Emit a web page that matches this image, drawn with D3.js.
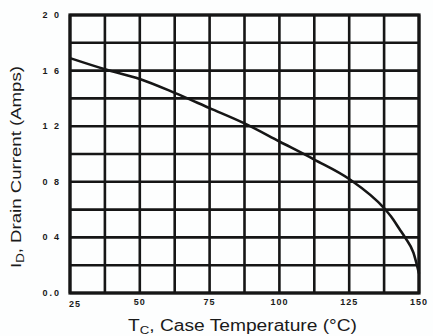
<!DOCTYPE html>
<html>
<head>
<meta charset="utf-8">
<script src="https://cdn.jsdelivr.net/npm/d3@7"></script>
<style>
  html, body { margin: 0; padding: 0; background: #fdfefe; }
  svg { display: block; }
  .tick-label { font-family: "Liberation Sans", Arial, sans-serif; font-weight: bold; font-size: 9px; fill: #1a1a1a; letter-spacing: 1px; }
  .axis-title { font-family: "Liberation Sans", Arial, sans-serif; fill: #1a1a1a; }
</style>
</head>
<body>
<div id="chart"></div>
<script>
// Drain current derating vs case temperature
const tempC = [25, 37.5, 50, 62.5, 75, 87.5, 100, 112.5, 125, 137.5, 140, 143, 145, 148, 150];
const drainAmps = [1.69, 1.61, 1.54, 1.44, 1.33, 1.22, 1.09, 0.96, 0.82, 0.61, 0.55, 0.46, 0.40, 0.29, 0.14];

const xTicks = [25, 50, 75, 100, 125, 150];
const yTicks = [0, 0.4, 0.8, 1.2, 1.6, 2.0];
const yTickText = ['0.0', '0 4', '0 8', '1 2', '1 6', '2 0'];

const width = 433, height = 336;
const plot = { left: 70, right: 419, top: 15, bottom: 293 };

const svg = d3.select('#chart').append('svg')
  .attr('width', width)
  .attr('height', height);

const x = d3.scaleLinear().domain([25, 150]).range([plot.left, plot.right]);
const y = d3.scaleLinear().domain([0, 2.0]).range([plot.bottom, plot.top]);

const ink = '#161616';

// grid: 10 columns (12.5 deg) and 10 rows (0.2 A)
const gx = d3.range(0, 11).map(i => 25 + i * 12.5);
const gy = d3.range(0, 11).map(i => i * 0.2);

const grid = svg.append('g');
grid.selectAll('line.v').data(gx).enter().append('line')
  .attr('class', 'v')
  .attr('x1', d => x(d)).attr('x2', d => x(d))
  .attr('y1', plot.top).attr('y2', plot.bottom)
  .attr('stroke', ink).attr('stroke-width', 2.6);
grid.selectAll('line.h').data(gy).enter().append('line')
  .attr('class', 'h')
  .attr('x1', plot.left).attr('x2', plot.right)
  .attr('y1', d => y(d)).attr('y2', d => y(d))
  .attr('stroke', ink).attr('stroke-width', 2.6);

// frame
svg.append('rect')
  .attr('x', plot.left).attr('y', plot.top)
  .attr('width', plot.right - plot.left).attr('height', plot.bottom - plot.top)
  .attr('fill', 'none').attr('stroke', ink).attr('stroke-width', 3.2);

// derating curve
const line = d3.line()
  .x((d, i) => x(tempC[i]))
  .y(d => y(d))
  .curve(d3.curveMonotoneX);
svg.append('path')
  .datum(drainAmps)
  .attr('d', line)
  .attr('fill', 'none')
  .attr('stroke', ink)
  .attr('stroke-width', 2.6);

// x tick labels
svg.selectAll('text.xt').data(xTicks).enter().append('text')
  .attr('class', 'tick-label')
  .attr('x', d => d === 25 ? x(d) + 5 : x(d))
  .attr('y', d => d === 25 ? 307 : 305)
  .attr('text-anchor', 'middle')
  .text(d => d);

// y tick labels
svg.selectAll('text.yt').data(yTicks).enter().append('text')
  .attr('class', 'tick-label')
  .attr('x', 61)
  .attr('y', d => y(d) + 3)
  .attr('text-anchor', 'end')
  .style('letter-spacing', '2px')
  .text((d, i) => yTickText[i]);

// x title
const xt = svg.append('text')
  .attr('class', 'axis-title')
  .attr('x', 128).attr('y', 331)
  .attr('textLength', 229)
  .attr('lengthAdjust', 'spacingAndGlyphs')
  .style('font-size', '16px');
xt.append('tspan').text('T');
xt.append('tspan').attr('dy', 3).style('font-size', '11px').text('C');
xt.append('tspan').attr('dy', -3).text(', Case Temperature (°C)');

// y title
const yt = svg.append('text')
  .attr('class', 'axis-title')
  .attr('transform', 'translate(21,268) rotate(-90)')
  .attr('textLength', 202)
  .attr('lengthAdjust', 'spacingAndGlyphs')
  .style('font-size', '14px');
yt.append('tspan').text('I');
yt.append('tspan').attr('dy', 3).style('font-size', '10px').text('D');
yt.append('tspan').attr('dy', -3).text(', Drain Current (Amps)');
</script>
</body>
</html>
